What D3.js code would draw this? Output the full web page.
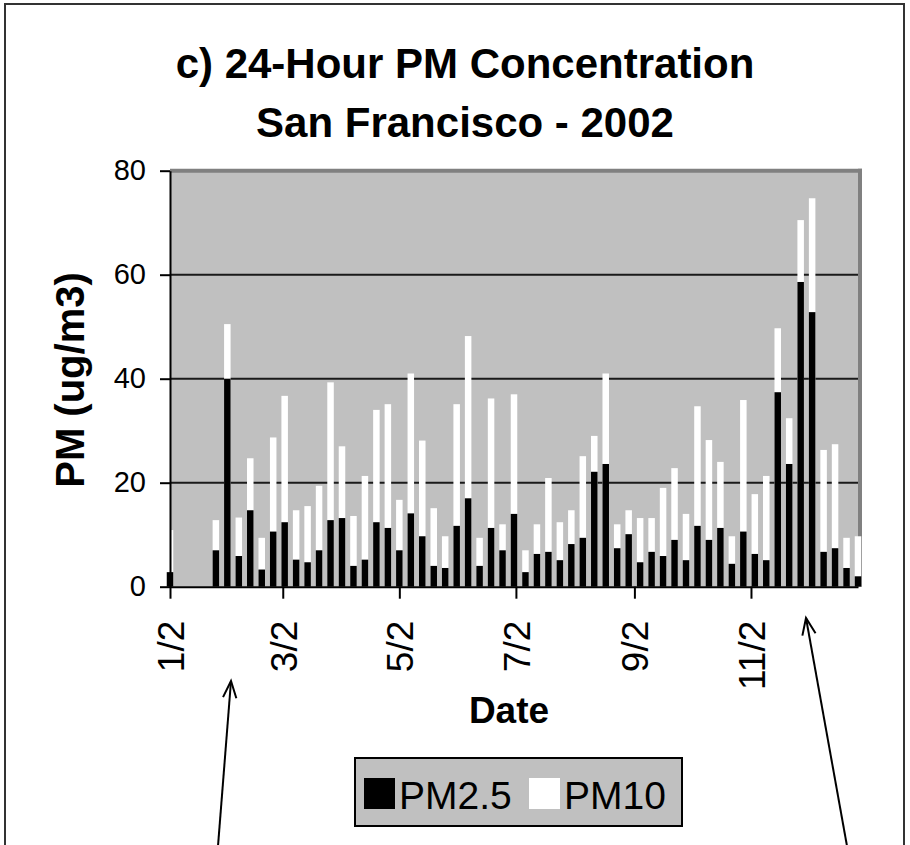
<!DOCTYPE html>
<html><head><meta charset="utf-8">
<script src="https://cdn.jsdelivr.net/npm/d3@7"></script>
<style>body{margin:0;background:#fff}svg{display:block}text{font-family:"Liberation Sans",Arial,sans-serif}</style>
</head><body><svg id="c" width="910" height="845"></svg>
<script>
// Sample dates (every 6 days), PM2.5 and PM10 (ug/m3); null = no sample
const dates = ["2002-01-02","2002-01-08","2002-01-14","2002-01-20","2002-01-26","2002-02-01","2002-02-07","2002-02-13","2002-02-19","2002-02-25",
"2002-03-03","2002-03-09","2002-03-15","2002-03-21","2002-03-27","2002-04-02","2002-04-08","2002-04-14","2002-04-20","2002-04-26",
"2002-05-02","2002-05-08","2002-05-14","2002-05-20","2002-05-26","2002-06-01","2002-06-07","2002-06-13","2002-06-19","2002-06-25",
"2002-07-01","2002-07-07","2002-07-13","2002-07-19","2002-07-25","2002-07-31","2002-08-06","2002-08-12","2002-08-18","2002-08-24",
"2002-08-30","2002-09-05","2002-09-11","2002-09-17","2002-09-23","2002-09-29","2002-10-05","2002-10-11","2002-10-17","2002-10-23",
"2002-10-29","2002-11-04","2002-11-10","2002-11-16","2002-11-22","2002-11-28","2002-12-04","2002-12-10","2002-12-16","2002-12-22","2002-12-28"];
const pm25 = [2.8,null,null,null,7.0,40.0,5.9,14.7,3.3,10.6,
12.4,5.2,4.7,7.0,12.8,13.2,4.0,5.2,12.4,11.3,
7.0,14.1,9.7,4.0,3.6,11.7,17.0,4.0,11.3,7.0,
14.0,2.8,6.3,6.7,5.1,8.2,9.4,22.1,23.6,7.4,
10.1,4.7,6.7,5.9,9.0,5.1,11.7,9.0,11.3,4.4,
10.6,6.3,5.1,37.4,23.6,58.6,52.8,6.7,7.4,3.6,2.0];
const pm10 = [10.9,null,null,null,12.8,50.5,13.3,24.7,9.4,28.7,
36.7,14.7,15.5,19.4,39.3,27.0,13.6,21.3,34.0,35.1,
16.7,41.0,28.1,15.1,9.7,35.1,48.2,9.4,36.2,12.0,
37.0,7.0,12.0,20.9,12.4,14.7,25.1,29.0,41.0,12.0,
14.7,13.2,13.2,19.0,22.8,14.0,34.7,28.2,24.0,9.7,
35.9,17.8,21.3,49.7,32.4,70.5,74.7,26.3,27.4,9.4,9.7];
const xTickDates = ["2002-01-02","2002-03-02","2002-05-02","2002-07-02","2002-09-02","2002-11-02"];
const yTicks = [0,20,40,60,80];
const seriesNames = ["PM2.5","PM10"];
const titleLines = ["c) 24-Hour PM Concentration","San Francisco - 2002"];

const parse = d3.utcParse("%Y-%m-%d");
const fmt = d3.utcFormat("%-m/%-d");
const data = dates.map((d,i)=>({date:parse(d), pm25:pm25[i], pm10:pm10[i]})).filter(d=>d.pm10!=null);

const svg = d3.select("#c");
const FONT='"Liberation Sans",Arial,sans-serif';
const L=170, R=858, T=170.7, B=586.7;
const x = d3.scaleUtc().domain([parse(dates[0]), parse(dates[dates.length-1])]).range([L,R]);
const y = d3.scaleLinear().domain([0,80]).range([B,T]);
const bw = 6.5;

// outer frame
svg.append("rect").attr("x",5).attr("y",4).attr("width",899).attr("height",870)
  .attr("fill","#fff").attr("stroke","#333").attr("stroke-width",2);

// titles
svg.append("text").attr("x",465).attr("y",78).attr("text-anchor","middle")
  .attr("font-size",42).attr("font-weight","bold").text(titleLines[0]);
svg.append("text").attr("x",465).attr("y",137).attr("text-anchor","middle")
  .attr("font-size",42).attr("font-weight","bold").text(titleLines[1]);

// plot area
svg.append("rect").attr("x",L).attr("y",T).attr("width",R-L).attr("height",B-T).attr("fill","#C0C0C0");
svg.append("line").attr("x1",L).attr("x2",R+4).attr("y1",T).attr("y2",T).attr("stroke","#808080").attr("stroke-width",4);
svg.append("line").attr("x1",R+2).attr("x2",R+2).attr("y1",T-2).attr("y2",B).attr("stroke","#808080").attr("stroke-width",4);

// gridlines
svg.append("g").selectAll("line").data(yTicks.filter(v=>v>0 && v<80)).join("line")
  .attr("x1",L).attr("x2",R).attr("y1",d=>y(d)).attr("y2",d=>y(d))
  .attr("stroke","#1a1a1a").attr("stroke-width",2);

// bars: PM10 (white) behind, PM2.5 (black) in front
svg.append("g").selectAll("rect").data(data).join("rect")
  .attr("x",d=>x(d.date)-bw/2).attr("width",bw)
  .attr("y",d=>y(d.pm10)).attr("height",d=>y(0)-y(d.pm10)).attr("fill","#fff");
svg.append("g").selectAll("rect").data(data).join("rect")
  .attr("x",d=>x(d.date)-bw/2).attr("width",bw)
  .attr("y",d=>y(d.pm25)).attr("height",d=>y(0)-y(d.pm25)).attr("fill","#000");

// y axis
const ya = svg.append("g").attr("transform",`translate(${L},0)`)
  .call(d3.axisLeft(y).tickValues(yTicks).tickSize(10).tickPadding(14).tickSizeOuter(0));
ya.select(".domain").attr("stroke","#000").attr("stroke-width",2);
ya.selectAll(".tick line").attr("stroke","#000").attr("stroke-width",2);
ya.selectAll("text").attr("font-size",29).attr("fill","#000").style("font-family",FONT);

// x axis
const xa = svg.append("g").attr("transform",`translate(0,${B})`)
  .call(d3.axisBottom(x).tickValues(xTickDates.map(parse)).tickFormat(fmt).tickSize(12).tickSizeOuter(0));
xa.select(".domain").attr("stroke","#000").attr("stroke-width",2);
xa.selectAll(".tick line").attr("stroke","#000").attr("stroke-width",2);
xa.selectAll("text").attr("font-size",37).attr("fill","#000").style("font-family",FONT)
  .attr("transform","rotate(-90)").attr("x",-34).attr("y",0).attr("dy","0.36em").attr("text-anchor","end");

// axis titles
svg.append("text").attr("transform","translate(84,380) rotate(-90)").attr("text-anchor","middle")
  .attr("font-size",40).attr("font-weight","bold").text("PM (ug/m3)");
svg.append("text").attr("x",509).attr("y",723).attr("text-anchor","middle")
  .attr("font-size",37).attr("font-weight","bold").text("Date");

// legend
const lg = svg.append("g");
lg.append("rect").attr("x",355).attr("y",758).attr("width",327).attr("height",68)
  .attr("fill","#C0C0C0").attr("stroke","#000").attr("stroke-width",2);
const items = [{name:seriesNames[0],fill:"#000",x:364},{name:seriesNames[1],fill:"#fff",x:529}];
items.forEach(it=>{
  lg.append("rect").attr("x",it.x).attr("y",778).attr("width",31).attr("height",31).attr("fill",it.fill);
  lg.append("text").attr("x",it.x+35).attr("y",809).attr("font-size",39).text(it.name);
});

// annotation arrows
function arrow(x1,y1,x2,y2){
  const g = svg.append("g").attr("stroke","#000").attr("stroke-width",2).attr("fill","none");
  g.append("line").attr("x1",x1).attr("y1",y1).attr("x2",x2).attr("y2",y2);
  const a = Math.atan2(y1-y2,x1-x2), len=18, sp=0.38;
  g.append("path").attr("d",`M${x2+len*Math.cos(a-sp)},${y2+len*Math.sin(a-sp)}L${x2},${y2}L${x2+len*Math.cos(a+sp)},${y2+len*Math.sin(a+sp)}`);
}
arrow(218,846,231,681);
arrow(847,846,806,618);
</script></body></html>
